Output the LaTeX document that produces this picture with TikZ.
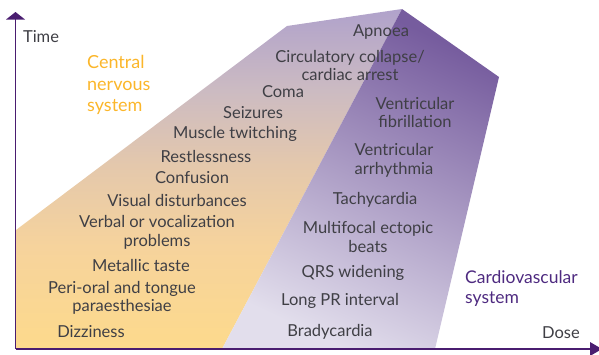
\documentclass[tikz,border=0pt]{standalone}
\usepackage{fontspec}
\setmainfont{Lato}
\definecolor{txt}{HTML}{3F3F45}
\definecolor{axiscol}{HTML}{4A1D70}
\definecolor{cnsorange}{HTML}{FBB62A}
\definecolor{cvspurple}{HTML}{4E2A80}
\definecolor{cvsdark}{HTML}{765C9E}
\definecolor{cvslight}{HTML}{E2DEEC}
\definecolor{cnsA}{HTML}{FDDA8C}
\definecolor{cnsB}{HTML}{F6D39C}
\definecolor{cnsC}{HTML}{E4C8AC}
\definecolor{cnsD}{HTML}{CCBBC2}
\definecolor{cnsE}{HTML}{B0A2CB}
\pgfdeclareverticalshading{cnsshade}{100bp}{
  color(0bp)=(cnsA); color(25bp)=(cnsA); color(40bp)=(cnsB); color(52bp)=(cnsC);
  color(63bp)=(cnsD); color(75bp)=(cnsE); color(100bp)=(cnsE)}
\begin{document}
\begin{tikzpicture}[x=1pt,y=-1pt,
  lbl/.style={text=txt,font=\fontsize{16.5}{18.5}\selectfont,align=center,inner sep=0pt},
  lbll/.style={lbl,align=left},
  axisline/.style={draw=axiscol,line width=1.8pt}]
\useasboundingbox (0,0) rectangle (599,354);
% CNS region
\coordinate (c1) at (16,349);
\coordinate (c2) at (16,230);
\coordinate (c3) at (287,26);
\coordinate (c4) at (402,9);
\coordinate (c5) at (222,349);
\coordinate (v2) at (499,77);
\coordinate (v3) at (435,349);
\shade[shading=cnsshade] (c1) -- (c2) -- (c3) -- (c4) -- (c5) -- cycle;
\shade[top color=cvsdark, bottom color=cvslight, shading angle=-25] (c4) -- (v2) -- (v3) -- (c5) -- cycle;
% axes
\coordinate (o) at (15.5,349);
\coordinate (ytop) at (15.5,19);
\coordinate (xend) at (590,349);
\draw[axisline] (o) -- (ytop);
\draw[axisline] (o) -- (xend);
\fill[axiscol] (6,19.5) -- (15.5,12) -- (25,19.5) -- cycle;
\fill[axiscol] (590,342) -- (602,349) -- (590,356) -- cycle;
% axis labels
\node[lbl] (time) at (41,37) {Time};
\node[lbl] (dose) at (561,333) {Dose};
% category labels
\node[lbll,text=cnsorange,anchor=west,font=\fontsize{18}{21.5}\selectfont] (cns) at (87,85) {Central\\nervous\\system};
\node[lbll,text=cvspurple,anchor=west,font=\fontsize{17.5}{20}\selectfont] (cvs) at (465,289) {Cardiovascular\\system};
% CNS symptoms
\node[lbl] (apnoea) at (381,32) {Apnoea};
\node[lbl] (circ) at (350,65.5) {Circulatory collapse/\\cardiac arrest};
\node[lbl] (coma) at (283,92) {Coma};
\node[lbl] (seiz) at (253,113) {Seizures};
\node[lbl] (musc) at (235,134) {Muscle twitching};
\node[lbl] (rest) at (206,156) {Restlessness};
\node[lbl] (conf) at (192,178) {Confusion};
\node[lbl] (vis) at (177,200) {Visual disturbances};
\node[lbl] (verb) at (157,232.5) {Verbal or vocalization\\problems};
\node[lbl] (metal) at (141,265) {Metallic taste};
\node[lbl] (peri) at (122,298) {Peri-oral and tongue\\paraesthesiae};
\node[lbl] (dizz) at (91,332) {Dizziness};
% CVS symptoms
\node[lbl] (vfib) at (415,112.5) {Ventricular\\fibrillation};
\node[lbl] (varr) at (394,160.5) {Ventricular\\arrhythmia};
\node[lbl] (tachy) at (375,200) {Tachycardia};
\node[lbl] (multi) at (368,237) {Multifocal ectopic\\beats};
\node[lbl] (qrs) at (353,273) {QRS widening};
\node[lbl] (lpr) at (340,301) {Long PR interval};
\node[lbl] (brady) at (330,332) {Bradycardia};
\end{tikzpicture}
\end{document}
